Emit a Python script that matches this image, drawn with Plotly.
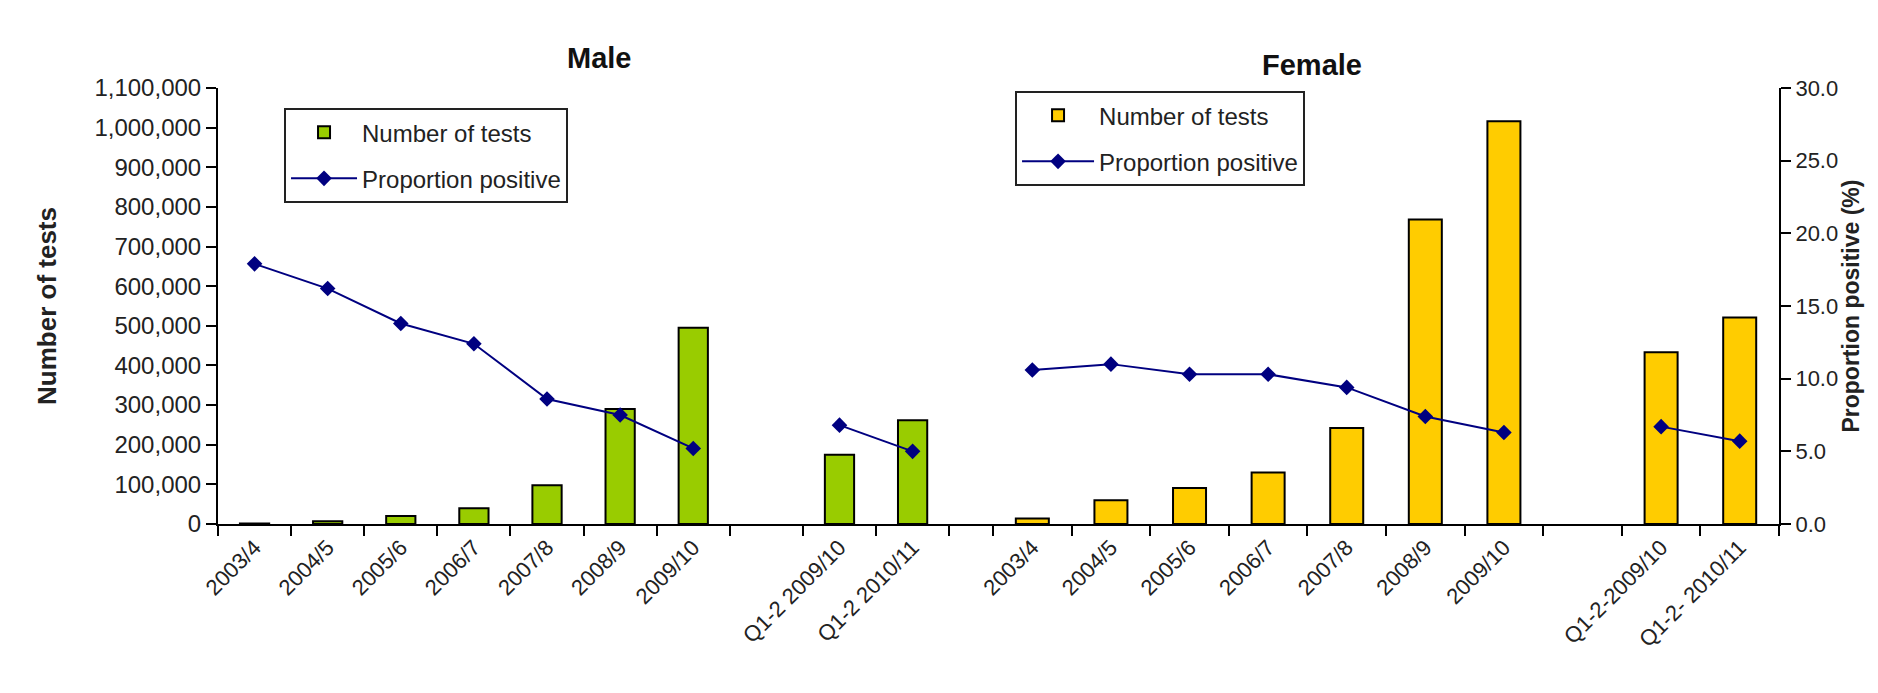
import plotly.graph_objects as go

# ---- data ----
male_categories = ["2003/4", "2004/5", "2005/6", "2006/7", "2007/8", "2008/9", "2009/10",
                   " ", "Q1-2 2009/10", "Q1-2 2010/11"]
male_tests = [1000, 7000, 20000, 40000, 98000, 290000, 495000, None, 175000, 262000]
male_positive = [17.9, 16.2, 13.8, 12.4, 8.6, 7.5, 5.2, None, 6.8, 5.0]

female_categories = ["2003/4", "2004/5", "2005/6", "2006/7", "2007/8", "2008/9", "2009/10",
                     "  ", "Q1-2-2009/10", "Q1-2- 2010/11"]
female_tests = [14000, 60000, 91000, 130000, 242000, 768000, 1016000, None, 433000, 521000]
female_positive = [10.6, 11.0, 10.3, 10.3, 9.4, 7.4, 6.3, None, 6.7, 5.7]

left_ticks = list(range(0, 1100001, 100000))
right_ticks = [0, 5, 10, 15, 20, 25, 30]

FONT = "Liberation Sans, Arial, sans-serif"
GREEN = "#99CC00"
GOLD = "#FFCC00"
NAVY = "#000080"

fig = go.Figure()

fig.add_trace(go.Bar(
    x=male_categories, y=male_tests, name="Number of tests",
    marker=dict(color=GREEN, line=dict(color="black", width=2)),
    width=0.4, xaxis="x", yaxis="y", legend="legend", legendgroup="mt"))
fig.add_trace(go.Scatter(
    x=male_categories, y=male_positive, name="Proportion positive",
    mode="lines+markers", line=dict(color=NAVY, width=2),
    marker=dict(symbol="diamond", size=12, color=NAVY),
    connectgaps=False, xaxis="x", yaxis="y2", legend="legend", legendgroup="mp"))

fig.add_trace(go.Bar(
    x=female_categories, y=female_tests, name="Number of tests",
    marker=dict(color=GOLD, line=dict(color="black", width=2)),
    width=0.42, xaxis="x2", yaxis="y", legend="legend2", legendgroup="ft"))
fig.add_trace(go.Scatter(
    x=female_categories, y=female_positive, name="Proportion positive",
    mode="lines+markers", line=dict(color=NAVY, width=2),
    marker=dict(symbol="diamond", size=12, color=NAVY),
    connectgaps=False, xaxis="x2", yaxis="y2", legend="legend2", legendgroup="fp"))

xcommon = dict(
    type="category", showline=True, linecolor="black", linewidth=2,
    ticks="outside", tickson="boundaries", ticklen=10, tickwidth=2, tickcolor="black",
    tickangle=-45, tickfont=dict(family=FONT, size=22, color="#222"),
    showgrid=False, zeroline=False, automargin=False, fixedrange=True)

legend_common = dict(xanchor="left", yanchor="top",
                     bgcolor="white", bordercolor="#222", borderwidth=2,
                     font=dict(family=FONT, size=24, color="#222"),
                     traceorder="grouped", tracegroupgap=12)

fig.update_layout(
    width=1878, height=693,
    margin=dict(l=210, r=107, t=80, b=177),
    paper_bgcolor="white", plot_bgcolor="white",
    font=dict(family=FONT, size=22, color="#222"),
    barmode="overlay",
    xaxis=dict(domain=[0, 0.4965], range=[-0.5, 10.1],
               categoryorder="array", categoryarray=male_categories, anchor="y",
               **xcommon),
    xaxis2=dict(domain=[0.4965, 1], range=[-0.5, 9.5],
                categoryorder="array", categoryarray=female_categories, anchor="y",
                **xcommon),
    yaxis=dict(range=[0, 1100000], tickvals=left_ticks, tickformat=",d",
               showline=True, linecolor="black", linewidth=2,
               ticks="outside", ticklen=10, tickwidth=2, tickcolor="black",
               tickfont=dict(family=FONT, size=24, color="#222"),
               showgrid=False, zeroline=False, anchor="x", automargin=False,
               title=dict(text="<b>Number of tests</b>", standoff=30,
                          font=dict(family=FONT, size=26, color="#222"))),
    yaxis2=dict(range=[0, 30], tickvals=right_ticks, tickformat=".1f",
                overlaying="y", side="right", anchor="x2",
                showline=True, linecolor="black", linewidth=2,
                ticks="outside", ticklen=10, tickwidth=2, tickcolor="black",
                tickfont=dict(family=FONT, size=22, color="#222"),
                showgrid=False, zeroline=False, automargin=False,
                title=dict(text="<b>Proportion positive (%)</b>", standoff=6,
                           font=dict(family=FONT, size=23, color="#222"))),
    legend=dict(x=0.0423, y=0.954, itemwidth=66, **legend_common),
    legend2=dict(x=0.5106, y=0.993, itemwidth=72, **legend_common),
    annotations=[
        dict(text="<b>Male</b>", x=557, y=32, xref="paper", yref="paper",
             showarrow=False, font=dict(family=FONT, size=29, color="#111")),
        dict(text="<b>Female</b>", x=1356, y=39, xref="paper", yref="paper",
             showarrow=False, font=dict(family=FONT, size=29, color="#111")),
    ],
)

# convert title annotation pixel positions to paper fractions
plot_w = 1878 - 210 - 107
plot_h = 693 - 80 - 177
for a in fig.layout.annotations:
    a.x = (a.x - 210) / plot_w
    a.y = (693 - 177 - a.y) / plot_h

fig.write_html("out.html")
